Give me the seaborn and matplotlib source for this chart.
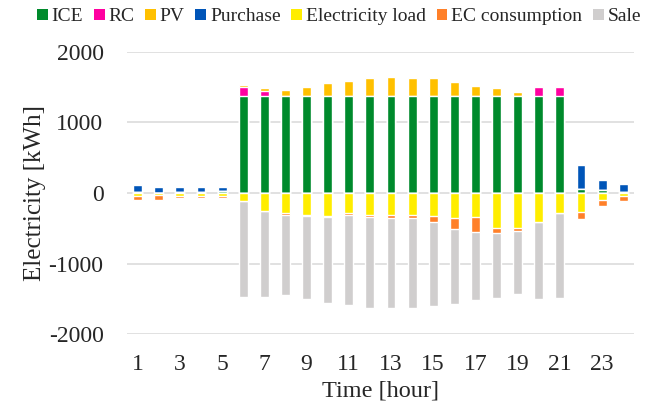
import numpy as np
import pandas as pd
import matplotlib
matplotlib.use("Agg")
import matplotlib.pyplot as plt
from matplotlib.patches import Patch
import seaborn as sns

# --- datos (kWh por hora) ---
hours = list(range(1, 25))
ice = [20, 5, 10, 20, 35] + [1370] * 16 + [60, 40, 20]
rc = [0, 0, 0, 0, 0, 130, 75, 0, 0, 0, 0, 0, 0, 0, 0, 0, 0, 0, 0, 130, 130, 0, 0, 0]
pv = [0, 0, 0, 0, 0, 25, 38, 94, 132, 189, 222, 255, 273, 255, 255, 198, 146, 113, 61, 19, 5, 0, 0, 0]
purchase = [95, 85, 80, 70, 55] + [0] * 16 + [330, 140, 105]
elec_load = [38, 33, 42, 42, 42, 113, 250, 283, 312, 326, 283, 307, 307, 307, 326, 359, 340, 501, 501, 416, 283, 274, 94, 38]
ec_cons = [57, 61, 33, 33, 33, 0, 0, 24, 14, 14, 24, 33, 47, 47, 85, 156, 213, 66, 33, 0, 0, 99, 85, 76]
sale = [0, 0, 0, 0, 0, 1367, 1219, 1144, 1177, 1220, 1286, 1286, 1272, 1272, 1193, 1059, 969, 922, 903, 1087, 1205, 0, 0, 0]

pos_names = ["ICE", "RC", "PV", "Purchase"]
neg_names = ["Electricity load", "EC consumption", "Sale"]
colors = {
    "ICE": "#008A2C",
    "RC": "#FF00A0",
    "PV": "#FFC000",
    "Purchase": "#0055B8",
    "Electricity load": "#FFED00",
    "EC consumption": "#FF8029",
    "Sale": "#D0CECE",
}

df = pd.DataFrame({"hour": [str(h) for h in hours], "ICE": ice, "RC": rc, "PV": pv,
                   "Purchase": purchase, "Electricity load": elec_load,
                   "EC consumption": ec_cons, "Sale": sale})

sns.set_style("white")
plt.rcParams["font.family"] = ["Liberation Serif", "DejaVu Serif"]
plt.rcParams["axes.unicode_minus"] = False

fig = plt.figure(figsize=(6.52, 4.08), dpi=100)
ax = fig.add_axes([0.195, 0.181, 0.777, 0.692])

order = df["hour"].tolist()

# apilado positivo: dibujar acumulados de mayor a menor
pos_cum = df[pos_names].cumsum(axis=1)
for name in reversed(pos_names):
    sns.barplot(x=df["hour"], y=pos_cum[name], order=order, color=colors[name],
                width=0.42, errorbar=None, saturation=1, ax=ax, zorder=3)

# apilado negativo
neg_cum = df[neg_names].cumsum(axis=1)
for name in reversed(neg_names):
    sns.barplot(x=df["hour"], y=-neg_cum[name], order=order, color=colors[name],
                width=0.42, errorbar=None, saturation=1, ax=ax, zorder=3)

ax.set_ylim(-2000, 2000)
ax.set_xlim(-0.5, 23.5)
ax.set_yticks([-2000, -1000, 0, 1000, 2000])
ax.set_xticks(range(0, 24, 2))
ax.set_xticklabels([str(h) for h in hours[::2]])
ax.grid(axis="y", color="#D9D9D9", linewidth=1.1, zorder=0)
ax.set_axisbelow(True)
for s in ax.spines.values():
    s.set_visible(False)
ax.tick_params(axis="both", length=0, labelsize=17)
ax.tick_params(axis="y", pad=17)
ax.tick_params(axis="x", pad=14)
ax.set_xlabel("Time [hour]", fontsize=17.5, va="top")
ax.xaxis.set_label_coords(0.5, -0.163)
ax.set_ylabel("Electricity [kWh]", fontsize=18, labelpad=2)

handles = [Patch(facecolor=colors[n], edgecolor="none", label=n) for n in pos_names + neg_names]
fig.legend(handles=handles, loc="upper center", bbox_to_anchor=(0.52, 1.008), ncol=7,
           frameon=False, fontsize=14, handlelength=0.55, handleheight=0.55,
           handletextpad=0.2, columnspacing=0.55, borderaxespad=0.2)

fig.savefig("out.png", dpi=100)
